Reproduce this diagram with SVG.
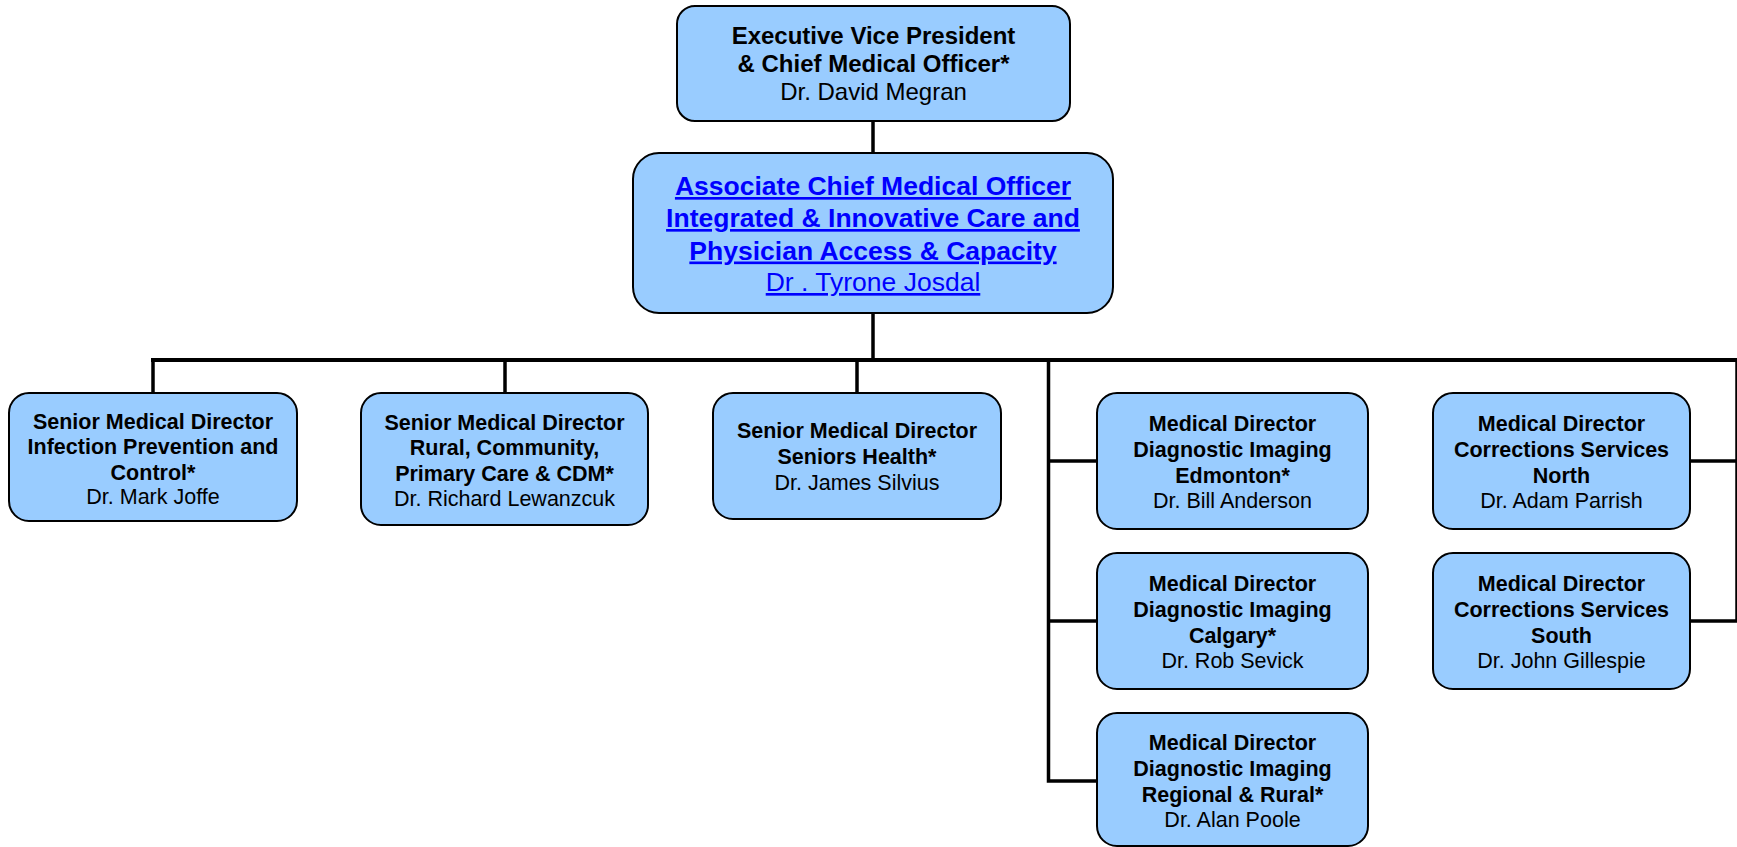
<svg xmlns="http://www.w3.org/2000/svg" width="1737" height="847" viewBox="0 0 1737 847">
<style>
.box{fill:#99CCFF;stroke:#000;stroke-width:2}
.t{font-family:"Liberation Sans",Arial,sans-serif;text-anchor:middle;fill:#000}
.s{font-size:21.5px}
.b{font-weight:bold}
.top{font-size:24px}
.lnk{font-size:26.5px;fill:#0000FF;text-decoration:underline}
.c{stroke:#000;stroke-width:3.5;fill:none}
.bus{stroke:#000;stroke-width:4;fill:none}
</style>
<rect width="1737" height="847" fill="#fff"/>
<g id="connectors">
<line class="c" x1="873" y1="121" x2="873" y2="153"/>
<line class="c" x1="873" y1="313" x2="873" y2="360"/>
<line class="bus" x1="151" y1="360" x2="1737" y2="360"/>
<line class="c" x1="153" y1="360" x2="153" y2="393"/>
<line class="c" x1="505" y1="360" x2="505" y2="393"/>
<line class="c" x1="857" y1="360" x2="857" y2="393"/>
<polyline class="c" points="1048.5,360 1048.5,781 1097,781"/>
<line class="c" x1="1048.5" y1="461" x2="1097" y2="461"/>
<line class="c" x1="1048.5" y1="621" x2="1097" y2="621"/>
<polyline class="c" points="1737,360 1737,621 1690,621"/>
<line class="c" x1="1690" y1="461" x2="1737" y2="461"/>
</g>
<g id="evp">
<rect class="box" x="677" y="6" width="393" height="115" rx="18"/>
<text class="t top b" x="873.5" y="44">Executive Vice President</text>
<text class="t top b" x="873.5" y="72">&amp; Chief Medical Officer*</text>
<text class="t top" x="873.5" y="100">Dr. David Megran</text>
</g>
<g id="acmo">
<rect class="box" x="633" y="153" width="480" height="160" rx="26"/>
<text class="t lnk b" x="873" y="195">Associate Chief Medical Officer</text>
<text class="t lnk b" x="873" y="227">Integrated &amp; Innovative Care and</text>
<text class="t lnk b" x="873" y="259.5">Physician Access &amp; Capacity</text>
<text class="t lnk" x="873" y="291">Dr . Tyrone Josdal</text>
</g>
<g id="ipc">
<rect class="box" x="9" y="393" width="288" height="128" rx="20"/>
<text class="t s b" x="153" y="429">Senior Medical Director</text>
<text class="t s b" x="153" y="454">Infection Prevention and</text>
<text class="t s b" x="153" y="480">Control*</text>
<text class="t s" x="153" y="504">Dr. Mark Joffe</text>
</g>
<g id="rural">
<rect class="box" x="361" y="393" width="287" height="132" rx="20"/>
<text class="t s b" x="504.5" y="430">Senior Medical Director</text>
<text class="t s b" x="504.5" y="455">Rural, Community,</text>
<text class="t s b" x="504.5" y="481">Primary Care &amp; CDM*</text>
<text class="t s" x="504.5" y="506">Dr. Richard Lewanzcuk</text>
</g>
<g id="seniors">
<rect class="box" x="713" y="393" width="288" height="126" rx="20"/>
<text class="t s b" x="857" y="438">Senior Medical Director</text>
<text class="t s b" x="857" y="464">Seniors Health*</text>
<text class="t s" x="857" y="490">Dr. James Silvius</text>
</g>
<g id="di-edmonton">
<rect class="box" x="1097" y="393" width="271" height="136" rx="20"/>
<text class="t s b" x="1232.5" y="431">Medical Director</text>
<text class="t s b" x="1232.5" y="457">Diagnostic Imaging</text>
<text class="t s b" x="1232.5" y="483">Edmonton*</text>
<text class="t s" x="1232.5" y="508">Dr. Bill Anderson</text>
</g>
<g id="di-calgary">
<rect class="box" x="1097" y="553" width="271" height="136" rx="20"/>
<text class="t s b" x="1232.5" y="591">Medical Director</text>
<text class="t s b" x="1232.5" y="617">Diagnostic Imaging</text>
<text class="t s b" x="1232.5" y="643">Calgary*</text>
<text class="t s" x="1232.5" y="668">Dr. Rob Sevick</text>
</g>
<g id="di-regional">
<rect class="box" x="1097" y="713" width="271" height="133" rx="20"/>
<text class="t s b" x="1232.5" y="750">Medical Director</text>
<text class="t s b" x="1232.5" y="776">Diagnostic Imaging</text>
<text class="t s b" x="1232.5" y="802">Regional &amp; Rural*</text>
<text class="t s" x="1232.5" y="827">Dr. Alan Poole</text>
</g>
<g id="cs-north">
<rect class="box" x="1433" y="393" width="257" height="136" rx="20"/>
<text class="t s b" x="1561.5" y="431">Medical Director</text>
<text class="t s b" x="1561.5" y="457">Corrections Services</text>
<text class="t s b" x="1561.5" y="483">North</text>
<text class="t s" x="1561.5" y="508">Dr. Adam Parrish</text>
</g>
<g id="cs-south">
<rect class="box" x="1433" y="553" width="257" height="136" rx="20"/>
<text class="t s b" x="1561.5" y="591">Medical Director</text>
<text class="t s b" x="1561.5" y="617">Corrections Services</text>
<text class="t s b" x="1561.5" y="643">South</text>
<text class="t s" x="1561.5" y="668">Dr. John Gillespie</text>
</g>
</svg>
